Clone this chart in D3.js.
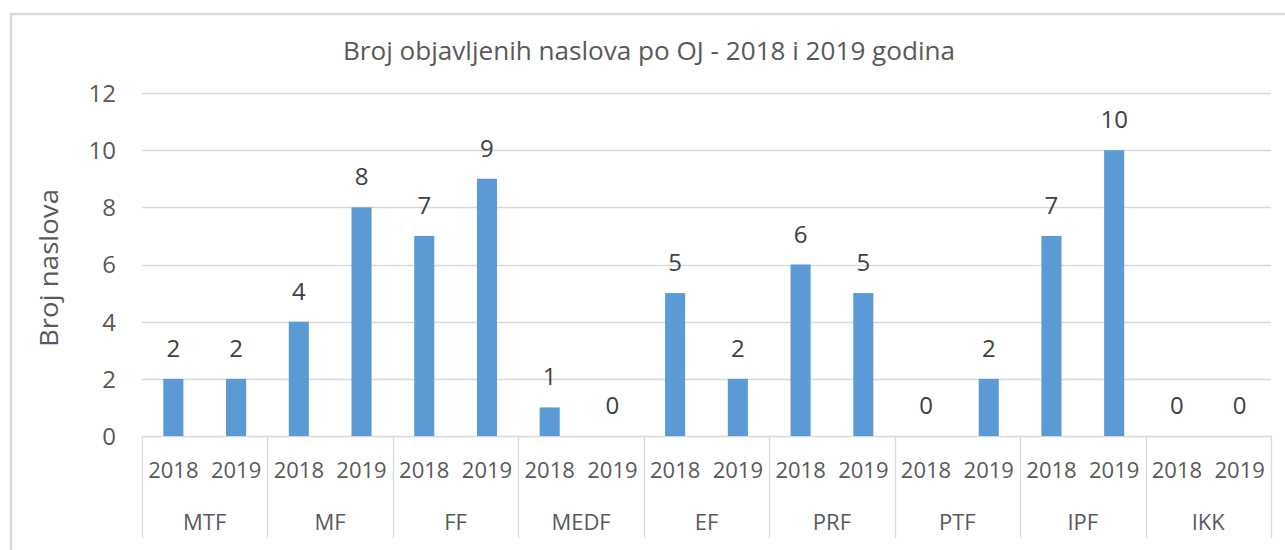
<!DOCTYPE html>
<html>
<head>
<meta charset="utf-8">
<script src="https://cdn.jsdelivr.net/npm/d3@7/dist/d3.min.js"></script>
<style>
  html, body { margin: 0; padding: 0; background: #fff; }
  svg { display: block; }
  text { font-family: "Open Sans", sans-serif; }
</style>
</head>
<body>
<svg id="chart" width="1285" height="550"></svg>
<script>
const title = "Broj objavljenih naslova po OJ - 2018 i 2019 godina";
const yTitle = "Broj naslova";
const groups = ["MTF", "MF", "FF", "MEDF", "EF", "PRF", "PTF", "IPF", "IKK"];
const years = ["2018", "2019"];
const values2018 = [2, 4, 7, 1, 5, 6, 0, 7, 0];
const values2019 = [2, 8, 9, 0, 2, 5, 2, 10, 0];
const yTicks = [0, 2, 4, 6, 8, 10, 12];

const series = { "2018": values2018, "2019": values2019 };
const rows = [];
groups.forEach((g, i) => years.forEach(yr => rows.push({ group: g, year: yr, value: series[yr][i] })));

const svg = d3.select("#chart");
const plot = { left: 142, right: 1271, top: 93, bottom: 436 };

// chart border (extends beyond the visible area at right and bottom)
svg.append("rect")
  .attr("x", 11).attr("y", 14).attr("width", 1300).attr("height", 600)
  .attr("fill", "none").attr("stroke", "#d9d9d9").attr("stroke-width", 2.5);

const x0 = d3.scaleBand().domain(groups).range([plot.left, plot.right]).padding(0);
const x1 = d3.scaleBand().domain(years).range([0, x0.bandwidth()])
  .paddingInner(0.68).paddingOuter(0.34);
const y = d3.scaleLinear().domain([0, 12]).range([plot.bottom, plot.top]);

// gridlines
svg.append("g").selectAll("line").data(yTicks).join("line")
  .attr("x1", plot.left).attr("x2", plot.right)
  .attr("y1", d => Math.round(y(d)) + 0.5).attr("y2", d => Math.round(y(d)) + 0.5)
  .attr("stroke", "#d9d9d9").attr("stroke-width", 1.3);

// y axis labels
const yAxis = d3.axisLeft(y).tickValues(yTicks).tickSize(0).tickPadding(0);
const yg = svg.append("g").attr("transform", `translate(116,0)`).call(yAxis);
yg.select(".domain").remove();
yg.selectAll("text").attr("font-size", 24).attr("fill", "#595959")
  .attr("font-family", "'Open Sans', sans-serif").attr("dy", "0.35em");

// bars
svg.append("g").selectAll("rect").data(rows).join("rect")
  .attr("x", d => x0(d.group) + x1(d.year))
  .attr("width", x1.bandwidth())
  .attr("y", d => y(d.value))
  .attr("height", d => y(0) - y(d.value))
  .attr("fill", "#5b9bd5");

// data labels
svg.append("g").selectAll("text").data(rows).join("text")
  .attr("x", d => x0(d.group) + x1(d.year) + x1.bandwidth() / 2)
  .attr("y", d => y(d.value) - 22)
  .attr("text-anchor", "middle")
  .attr("font-size", 24).attr("fill", "#404040")
  .text(d => d.value);

// category axis: separators
const seps = groups.map(g => x0(g)).concat([plot.right]);
svg.append("g").selectAll("line").data(seps).join("line")
  .attr("x1", d => Math.round(d) + 0.5).attr("x2", d => Math.round(d) + 0.5)
  .attr("y1", plot.bottom).attr("y2", 538)
  .attr("stroke", "#d9d9d9").attr("stroke-width", 1.3);

// year labels
svg.append("g").selectAll("text").data(rows).join("text")
  .attr("x", d => x0(d.group) + x1(d.year) + x1.bandwidth() / 2)
  .attr("y", 470).attr("dy", "0.35em")
  .attr("text-anchor", "middle")
  .attr("font-size", 22).attr("fill", "#595959")
  .text(d => d.year);

// group labels
svg.append("g").selectAll("text").data(groups).join("text")
  .attr("x", d => x0(d) + x0.bandwidth() / 2)
  .attr("y", 522).attr("dy", "0.35em")
  .attr("text-anchor", "middle")
  .attr("font-size", 22).attr("fill", "#595959")
  .text(d => d);

// title
svg.append("text")
  .attr("x", 649).attr("y", 60)
  .attr("text-anchor", "middle")
  .attr("font-size", 25).attr("fill", "#595959")
  .attr("textLength", 612).attr("lengthAdjust", "spacingAndGlyphs")
  .text(title);

// y axis title
svg.append("text")
  .attr("transform", "translate(58,268) rotate(-90)")
  .attr("text-anchor", "middle")
  .attr("font-size", 26).attr("fill", "#595959")
  .attr("textLength", 158).attr("lengthAdjust", "spacingAndGlyphs")
  .text(yTitle);
</script>
</body>
</html>
